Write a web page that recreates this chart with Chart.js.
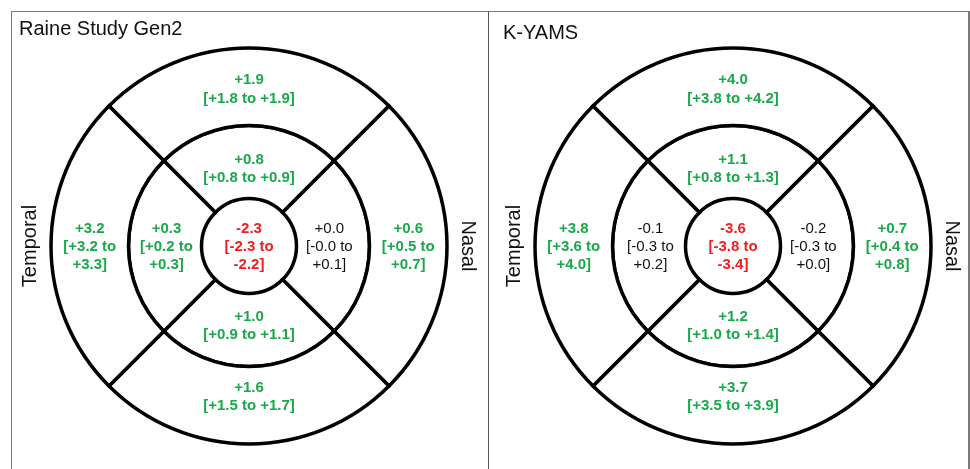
<!DOCTYPE html>
<html>
<head>
<meta charset="utf-8">
<script src="https://cdn.jsdelivr.net/npm/chart.js"></script>
<style>
  html, body { margin: 0; padding: 0; background: #fff; }
  #page { position: relative; width: 970px; height: 469px; overflow: hidden; }
  #frame { position: absolute; left: 11px; top: 11px; width: 956px; height: 470px;
           border: 1px solid #7a7a7a; border-right: 2px solid #7a7a7a; border-bottom: none; }
  #divider { position: absolute; left: 488px; top: 11px; width: 1px; height: 470px; background: #555; }
  canvas { position: absolute; top: 0; }
  #raine { left: 0; }
  #kyams { left: 490px; }
</style>
</head>
<body>
<div id="page">
  <div id="frame"></div>
  <div id="divider"></div>
  <canvas id="raine" width="488" height="469"></canvas>
  <canvas id="kyams" width="480" height="469"></canvas>
</div>
<script>
"use strict";

// ETDRS regions: centre, inner ring (sup, nasal, inf, temp), outer ring (sup, nasal, inf, temp)
var regions = ["Centre", "Inner superior", "Inner nasal", "Inner inferior", "Inner temporal",
               "Outer superior", "Outer nasal", "Outer inferior", "Outer temporal"];

var raineMean  = [-2.3, 0.8,  0.0, 1.0, 0.3, 1.9, 0.6, 1.6, 3.2];
var raineLower = [-2.3, 0.8, -0.0, 0.9, 0.2, 1.8, 0.5, 1.5, 3.2];
var raineUpper = [-2.2, 0.9,  0.1, 1.1, 0.3, 1.9, 0.7, 1.7, 3.3];

var kyamsMean  = [-3.6, 1.1, -0.2, 1.2, -0.1, 4.0, 0.7, 3.7, 3.8];
var kyamsLower = [-3.8, 0.8, -0.3, 1.0, -0.3, 3.8, 0.4, 3.5, 3.6];
var kyamsUpper = [-3.4, 1.3,  0.0, 1.4,  0.2, 4.2, 0.8, 3.9, 4.0];

var sideLabels = ["Temporal", "Nasal"];

var GREEN = "#1aa84b";
var RED = "#f01e1e";
var FONT = '"Liberation Sans", Arial, sans-serif';

// where inside each sector the label sits (fraction of ring thickness), sup/nasal/inf/temp
var outerFrac = [0.48, 0.5, 0.38, 0.5];
var innerFrac = [0.42, 0.45, 0.43, 0.48];

function fmt(v) {
  var sign = (v < 0 || Object.is(v, -0)) ? "-" : "+";
  return sign + Math.abs(v).toFixed(1);
}

function labelLines(k, mean, lo, hi, wide) {
  if (wide) return [fmt(mean[k]), "[" + fmt(lo[k]) + " to " + fmt(hi[k]) + "]"];
  return [fmt(mean[k]), "[" + fmt(lo[k]) + " to", fmt(hi[k]) + "]"];
}

function drawBlock(ctx, x, y, lines, lo, hi) {
  var color = "#111", weight = "normal";
  if (lo > 0) { color = GREEN; weight = "bold"; }
  else if (hi < 0) { color = RED; weight = "bold"; }
  ctx.fillStyle = color;
  ctx.font = weight + " 15px " + FONT;
  ctx.textAlign = "center";
  ctx.textBaseline = "middle";
  var lh = 18.3;
  for (var i = 0; i < lines.length; i++) {
    ctx.fillText(lines[i], x, y + 1 + (i - (lines.length - 1) / 2) * lh);
  }
}

var etdrsLabels = {
  id: "etdrsLabels",
  afterDatasetsDraw: function(chart, args, opts) {
    var ctx = chart.ctx;
    var mean = opts.mean, lo = opts.lower, hi = opts.upper;
    ctx.save();
    // ring 0 = outer, ring 1 = inner, ring 2 = centre
    [0, 1].forEach(function(ring) {
      var meta = chart.getDatasetMeta(ring);
      meta.data.forEach(function(arc, i) {
        var p = arc.getProps(["x", "y", "startAngle", "endAngle", "innerRadius", "outerRadius"], true);
        var a = (p.startAngle + p.endAngle) / 2;
        var frac = ring === 0 ? outerFrac[i] : innerFrac[i];
        var r = p.innerRadius + (p.outerRadius - p.innerRadius) * frac;
        var k = (ring === 0 ? 5 : 1) + i;
        var wide = (i === 0 || i === 2);
        drawBlock(ctx, p.x + Math.cos(a) * r, p.y + Math.sin(a) * r, labelLines(k, mean, lo, hi, wide), lo[k], hi[k]);
      });
    });
    var c = chart.getDatasetMeta(2).data[0];
    drawBlock(ctx, c.x, c.y, labelLines(0, mean, lo, hi, false), lo[0], hi[0]);

    // panel title and side labels
    ctx.fillStyle = "#111";
    ctx.font = "20px " + FONT;
    ctx.textAlign = "left";
    ctx.textBaseline = "alphabetic";
    ctx.fillText(opts.title, opts.titleX, opts.titleY);
    ctx.textAlign = "center";
    ctx.save();
    ctx.translate(c.x - 213, c.y);
    ctx.rotate(-Math.PI / 2);
    ctx.fillText(sideLabels[0], 0, 0);
    ctx.restore();
    ctx.save();
    ctx.translate(c.x + 213, c.y);
    ctx.rotate(Math.PI / 2);
    ctx.fillText(sideLabels[1], 0, 0);
    ctx.restore();
    ctx.restore();
  }
};

function ring(weight, n, border) {
  var data = [];
  for (var i = 0; i < n; i++) data.push(1);
  return {
    data: data,
    weight: weight,
    backgroundColor: "#fff",
    borderColor: "#000",
    borderWidth: border,
    borderJoinStyle: "miter"
  };
}

function etdrsChart(id, padLeft, mean, lower, upper, title, titleX, titleY) {
  var ctx = document.getElementById(id);
  return new Chart(ctx, {
    type: "doughnut",
    data: {
      labels: ["Superior", "Nasal", "Inferior", "Temporal"],
      datasets: [ring(77.5, 4, 3.5), ring(73, 4, 3.5), ring(47.5, 1, 0)]
    },
    options: {
      responsive: false,
      animation: false,
      events: [],
      cutout: 0,
      radius: 198,
      rotation: -45,
      layout: { padding: { left: padLeft, top: 23, right: 0, bottom: 0 } },
      plugins: {
        legend: { display: false },
        tooltip: { enabled: false },
        etdrsLabels: { mean: mean, lower: lower, upper: upper, title: title, titleX: titleX, titleY: titleY }
      }
    },
    plugins: [etdrsLabels]
  });
}

etdrsChart("raine", 10, raineMean, raineLower, raineUpper, "Raine Study Gen2", 19, 35);
etdrsChart("kyams", 6, kyamsMean, kyamsLower, kyamsUpper, "K-YAMS", 13, 39);
</script>
</body>
</html>
